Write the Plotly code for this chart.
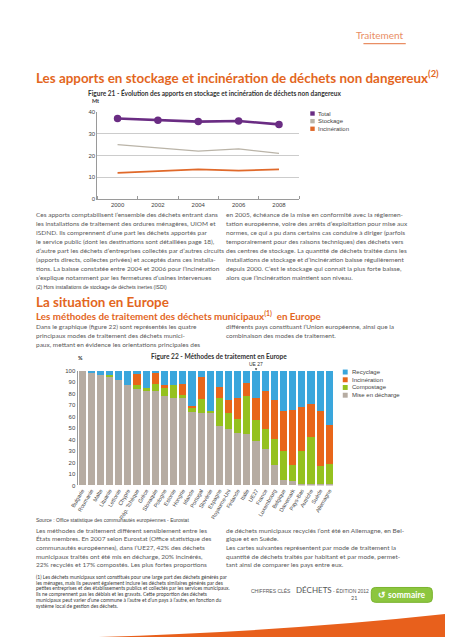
import plotly.graph_objects as go

# page is 453x640; the browser adds an 8px body margin, so the figure is drawn
# 8px in from the top-left corner -> figure size reduced accordingly
PAGE_W, PAGE_H = 453, 640
OFF = 8
W, H = PAGE_W - OFF, PAGE_H - OFF

# ---------------- data ----------------
years = [2000, 2002, 2004, 2006, 2008]
total = [37.0, 36.2, 35.6, 35.9, 34.3]
stockage = [25.0, 23.5, 22.0, 23.0, 21.0]
incineration_fr = [12.0, 12.7, 13.6, 13.0, 13.6]
line_ticks = [0, 10, 20, 30, 40]

countries = ["Bulgarie", "Roumanie", "Malte", "Lituanie", "Lettonie", "Chypre",
             "Rép. Tchèque", "Grèce", "Slovaquie", "Pologne", "Estonie", "Hongrie",
             "Irlande", "Portugal", "Slovénie", "Espagne", "Royaume-Uni", "Finlande",
             "Italie", "UE27", "France", "Luxembourg", "Belgique", "Danemark",
             "Pays-Bas", "Autriche", "Suède", "Allemagne"]
decharge = [100, 99, 96, 95, 92, 87, 84, 82, 82, 78, 76, 76, 64, 63, 63, 52, 49, 46,
            45, 39, 32, 18, 5, 4, 1, 1, 1, 1]
compostage = [0, 0, 0, 1, 0, 0, 3, 3, 6, 8, 11, 3, 3, 12, 2, 24, 14, 12,
              33, 18, 17, 22, 25, 14, 29, 41, 16, 18]
incineration_eu = [0, 0, 0, 0, 0, 0, 10, 0, 10, 1, 0, 9, 2, 19, 0, 10, 11, 18,
                   11, 19, 33, 34, 35, 48, 38, 29, 48, 34]
recyclage = [0, 1, 4, 4, 8, 13, 3, 15, 2, 13, 13, 12, 31, 6, 35, 14, 26, 24,
             11, 24, 18, 26, 35, 34, 32, 29, 35, 47]
bar_ticks = list(range(0, 101, 10))

# ---------------- styles ----------------
PURPLE = "#6a2c83"
STOCK = "#bab4a8"
ORANGE_L = "#e0692a"
BLUE = "#3aa6dc"
ORANGE = "#e8661a"
GREEN = "#95c11f"
GREY = "#b6aca2"
TITLE = "#e3661e"
BODY = "#5a5a5a"
AX = "#9a9a9a"
CHART_FONT = "Liberation Sans Narrow, Liberation Sans, Arial"
NARROW = "Liberation Sans Narrow, Liberation Sans, Arial"
BODY_FONT = "Lato"
BODY_SIZE = 6.5


def px(x):
    return (x - OFF) / W


def py(y):
    return 1 - (y - OFF) / H


fig = go.Figure()

# line chart
fig.add_trace(go.Scatter(x=years, y=stockage, mode="lines", name="Stockage",
                         line=dict(color=STOCK, width=1.3), xaxis="x", yaxis="y",
                         showlegend=False))
fig.add_trace(go.Scatter(x=years, y=incineration_fr, mode="lines", name="Incinération",
                         line=dict(color=ORANGE_L, width=1.6), xaxis="x", yaxis="y",
                         showlegend=False))
fig.add_trace(go.Scatter(x=years, y=total, mode="lines+markers", name="Total",
                         line=dict(color=PURPLE, width=2.6),
                         marker=dict(size=7.5, color=PURPLE), xaxis="x", yaxis="y",
                         showlegend=False))

# stacked bars
for vals, col, nm in [(decharge, GREY, "Mise en décharge"),
                      (compostage, GREEN, "Compostage"),
                      (incineration_eu, ORANGE, "Incinération"),
                      (recyclage, BLUE, "Recyclage")]:
    fig.add_trace(go.Bar(x=countries, y=vals, name=nm, marker=dict(color=col, line=dict(width=0)),
                         xaxis="x2", yaxis="y2", showlegend=False))

ann = []
shapes = []


def txt(x, y, s, size, color=BODY, anchor="left", family=BODY_FONT, bold=False):
    if bold:
        s = "<b>" + s + "</b>"
    ann.append(dict(x=px(x), y=py(y), xref="paper", yref="paper", text=s, showarrow=False,
                    xanchor=anchor, yanchor="middle",
                    font=dict(size=size, color=color, family=family)))


# header
txt(405, 32, "Traitement", 10, color="#e98e64", anchor="right")
shapes.append(dict(type="line", xref="paper", yref="paper", x0=px(362), x1=px(405),
                   y0=py(41), y1=py(41), line=dict(color="#e98e64", width=1.3)))

txt(27, 75, "Les apports en stockage et incinération de déchets non dangereux<sup>(2)</sup>",
    13.4, color=TITLE, bold=True)
txt(80, 91, "Figure 21 - Évolution des apports en stockage et incinération de déchets non dangereux",
    6.5, color="#333333", bold=True)
txt(90, 99, "Mt", 5.5, color="#333333", anchor="center", bold=True)

# line legend
for yy, col, lab in [(111.5, PURPLE, "Total"), (119.2, STOCK, "Stockage"), (126.9, ORANGE_L, "Incinération")]:
    shapes.append(dict(type="rect", xref="paper", yref="paper", x0=px(308), x1=px(312.5),
                       y0=py(yy + 2.2), y1=py(yy - 2.2), fillcolor=col, line=dict(width=0)))
    txt(313.5, yy, lab, 6, color="#444444", family=CHART_FONT)

# body text block 1
left1 = ["Ces apports comptabilisent l’ensemble des déchets entrant dans",
         "les installations de traitement des ordures ménagères, UIOM et",
         "ISDND. Ils comprennent d’une part les déchets apportés par",
         "le service public (dont les destinations sont détaillées page 18),",
         "d’autre part les déchets d’entreprises collectés par d’autres circuits",
         "(apports directs, collectes privées) et acceptés dans ces installa-",
         "tions. La baisse constatée entre 2004 et 2006 pour l’incinération",
         "s’explique notamment par les fermetures d’usines intervenues"]
right1 = ["en 2005, échéance de la mise en conformité avec la réglemen-",
          "tation européenne, voire des arrêts d’exploitation pour mise aux",
          "normes, ce qui a pu dans certains cas conduire à diriger (parfois",
          "temporairement pour des raisons techniques) des déchets vers",
          "des centres de stockage. La quantité de déchets traitée dans les",
          "installations de stockage et d’incinération baisse régulièrement",
          "depuis 2000. C’est le stockage qui connaît la plus forte baisse,",
          "alors que l’incinération maintient son niveau."]
for i, s in enumerate(left1):
    txt(27, 213 + 9.1 * i, s, BODY_SIZE)
for i, s in enumerate(right1):
    txt(220, 213 + 9.1 * i, s, BODY_SIZE)

txt(27, 287, "(2) Hors installations de stockage de déchets inertes (ISDI)", 5.0,
    color="#444444", family=NARROW)

txt(27, 302, "La situation en Europe", 13.4, color=TITLE, bold=True)
txt(27, 315, "Les méthodes de traitement des déchets municipaux<sup>(1)</sup>  en Europe",
    9.8, color=TITLE, bold=True)

left2 = ["Dans le graphique (figure 22) sont représentés les quatre",
         "principaux modes de traitement des déchets munici-",
         "paux, mettant en évidence les orientations principales des"]
right2 = ["différents pays constituant l’Union européenne, ainsi que la",
          "combinaison des modes de traitement."]
for i, s in enumerate(left2):
    txt(27, 327 + 9.1 * i, s, BODY_SIZE)
for i, s in enumerate(right2):
    txt(220, 327 + 9.1 * i, s, BODY_SIZE)

txt(75, 358, "%", 5.5, color="#333333", anchor="center", bold=True)
txt(215, 356.5, "Figure 22 - Méthodes de traitement en Europe", 6.6, color="#333333",
    anchor="center", bold=True)

# UE 27 marker
ann.append(dict(x="UE27", y=100, xref="x2", yref="y2", text="UE 27", showarrow=True,
                ax=0, ay=-6.5, arrowhead=2, arrowsize=0.6, arrowwidth=0.8, arrowcolor="#555555",
                font=dict(size=5, color="#333333", family=CHART_FONT)))

# bar legend
for yy, col, lab in [(372.5, BLUE, "Recyclage"), (380.3, ORANGE, "Incinération"),
                     (388.1, GREEN, "Compostage"), (395.9, GREY, "Mise en décharge")]:
    shapes.append(dict(type="rect", xref="paper", yref="paper", x0=px(341), x1=px(346),
                       y0=py(yy + 2.5), y1=py(yy - 2.5), fillcolor=col, line=dict(width=0)))
    txt(348, yy, lab, 6, color="#444444", family=CHART_FONT)

txt(27, 522, "Source : Office statistique des communautés européennes - Eurostat", 5.0,
    color="#444444", family=NARROW)

left3 = ["Les méthodes de traitement diffèrent sensiblement entre les",
         "États membres. En 2007 selon Eurostat (Office statistique des",
         "communautés européennes), dans l’UE27, 42% des déchets",
         "municipaux traités ont été mis en décharge, 20% incinérés,",
         "22% recyclés et 17% compostés. Les plus fortes proportions"]
right3 = ["de déchets municipaux recyclés l’ont été en Allemagne, en Bel-",
          "gique et en Suède.",
          "Les cartes suivantes représentent par mode de traitement la",
          "quantité de déchets traités par habitant et par mode, permet-",
          "tant ainsi de comparer les pays entre eux."]
for i, s in enumerate(left3):
    txt(27, 532 + 8.8 * i, s, BODY_SIZE)
for i, s in enumerate(right3):
    txt(220, 532 + 8.8 * i, s, BODY_SIZE)

foot = ["(1) Les déchets municipaux sont constitués pour une large part des déchets générés par",
        "les ménages, mais ils peuvent également inclure les déchets similaires générés par des",
        "petites entreprises et des établissements publics et collectés par les services municipaux.",
        "Ils ne comprennent pas les déblais et les gravats. Cette proportion des déchets",
        "municipaux peut varier d’une commune à l’autre et d’un pays à l’autre, en fonction du",
        "système local de gestion des déchets."]
for i, s in enumerate(foot):
    txt(27, 579 + 6.0 * i, s, 5.0, color="#3a3a3a")

txt(290, 594, "CHIFFRES CLÉS", 5.0, color="#555555", anchor="right", family=NARROW)
txt(291, 593, "DÉCHETS", 8, color="#555555")
txt(329, 594, "- ÉDITION 2012", 5.0, color="#555555", family=NARROW)
txt(358, 600.5, "21", 5.5, color="#555555", anchor="right")

# rounded green "sommaire" button
bx0, bx1, by0, by1, r = 370, 432, 590, 605, 4
btn = (f"M {px(bx0 + r)},{py(by0)} L {px(bx1 - r)},{py(by0)} "
       f"Q {px(bx1)},{py(by0)} {px(bx1)},{py(by0 + r)} L {px(bx1)},{py(by1 - r)} "
       f"Q {px(bx1)},{py(by1)} {px(bx1 - r)},{py(by1)} L {px(bx0 + r)},{py(by1)} "
       f"Q {px(bx0)},{py(by1)} {px(bx0)},{py(by1 - r)} L {px(bx0)},{py(by0 + r)} "
       f"Q {px(bx0)},{py(by0)} {px(bx0 + r)},{py(by0)} Z")
shapes.append(dict(type="path", xref="paper", yref="paper", path=btn,
                   fillcolor="#8cc63f", line=dict(color="#7ab32e", width=1)))
txt(401, 597.5, "↺ sommaire", 8.5, color="white", anchor="center", bold=True)

# orange swoosh
shapes.append(dict(type="path", xref="paper", yref="paper",
                   path=f"M {px(93)},{py(640)} Q {px(290)},{py(634)} {px(453)},{py(616)} L {px(453)},{py(640)} Z",
                   fillcolor="#e8601c", line=dict(width=0)))

fig.update_layout(
    width=W, height=H, autosize=False,
    margin=dict(l=0, r=0, t=0, b=0),
    paper_bgcolor="white", plot_bgcolor="white",
    font=dict(family=CHART_FONT, color="#444444"),
    barmode="stack", bargap=0.22,
    showlegend=False,
    xaxis=dict(domain=[px(91.7), px(296.7)], range=[1999, 2009], anchor="y",
               tickvals=years, ticktext=[str(y) for y in years], ticks="",
               showline=True, linecolor=AX, linewidth=1, showgrid=False, zeroline=False,
               tickfont=dict(size=6, color="#444444"),
               minor=dict(tickvals=[1999, 2001, 2003, 2005, 2007, 2009], ticks="inside",
                          ticklen=3, tickcolor=AX, showgrid=False)),
    yaxis=dict(domain=[py(197.7), py(110)], range=[0, 40], anchor="x",
               tickvals=line_ticks, showgrid=True, gridcolor="#cccccc", gridwidth=1,
               showline=True, linecolor=AX, zeroline=False, ticks="",
               tickfont=dict(size=6, color="#444444")),
    xaxis2=dict(domain=[px(71.5), px(332)], type="category", anchor="y2",
                tickangle=-60, ticks="", showline=False, showgrid=False,
                tickfont=dict(size=5.5, color="#444444")),
    yaxis2=dict(domain=[py(487), py(371)], range=[0, 100], anchor="x2",
                tickvals=bar_ticks, showgrid=False, showline=True, linecolor=AX,
                zeroline=False, ticks="", tickfont=dict(size=6, color="#444444")),
    annotations=ann,
    shapes=shapes,
)

fig.write_html("out.html")
